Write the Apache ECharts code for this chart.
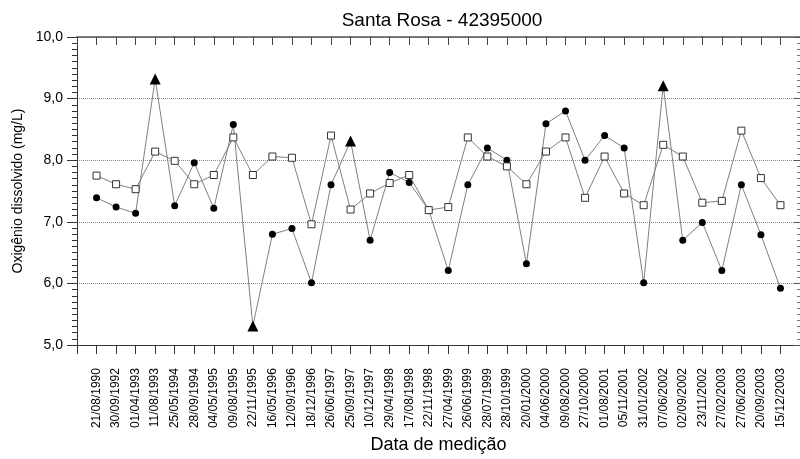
<!DOCTYPE html>
<html>
<head>
<meta charset="utf-8">
<script src="https://cdn.jsdelivr.net/npm/echarts@6/dist/echarts.min.js"></script>
<style>
html,body{margin:0;padding:0;background:#fff;}
#c{width:800px;height:459px;}
</style>
</head>
<body>
<div id="c"></div>
<script>
const titleText = 'Santa Rosa - 42395000';
const yAxisName = 'Oxigênio dissolvido (mg/L)';
const xAxisName = 'Data de medição';
const categories = ['21/08/1990','30/09/1992','01/04/1993','11/08/1993','25/05/1994','28/09/1994','04/05/1995','09/08/1995','22/11/1995','16/05/1996','12/09/1996','18/12/1996','26/06/1997','25/09/1997','10/12/1997','29/04/1998','17/08/1998','22/11/1998','27/04/1999','26/06/1999','28/07/1999','28/10/1999','20/01/2000','04/06/2000','09/08/2000','27/10/2000','01/08/2001','05/11/2001','31/01/2002','07/06/2002','02/09/2002','23/11/2002','27/02/2003','27/06/2003','20/09/2003','15/12/2003'];
const circleValues = [7.39,7.24,7.14,9.32,7.26,7.96,7.22,8.58,5.31,6.80,6.89,6.01,7.60,8.31,6.70,7.80,7.64,7.19,6.21,7.60,8.20,8.00,6.32,8.59,8.80,8.00,8.40,8.20,6.01,9.21,6.70,6.99,6.21,7.60,6.79,5.92];
const squareValues = [7.75,7.61,7.53,8.14,7.99,7.61,7.76,8.37,7.76,8.06,8.04,6.96,8.40,7.20,7.46,7.63,7.76,7.19,7.24,8.37,8.06,7.90,7.61,8.14,8.37,7.39,8.06,7.46,7.27,8.25,8.06,7.31,7.34,8.48,7.71,7.27];
const triangleIndices = [3, 8, 13, 29];
const yTicks = [5, 6, 7, 8, 9, 10];

const paddedCats = [''].concat(categories, ['']);
const font = 'Arial, "Liberation Sans", sans-serif';

const circleData = circleValues.map((v, i) => {
  const item = { value: [i + 1, v] };
  if (triangleIndices.indexOf(i) >= 0) { item.symbol = 'triangle'; item.symbolSize = 11; }
  return item;
});
const squareData = squareValues.map((v, i) => ({ value: [i + 1, v] }));

const chart = echarts.init(document.getElementById('c'), null, { renderer: 'canvas' });
chart.setOption({
  animation: false,
  backgroundColor: '#fff',
  title: {
    text: titleText, left: 437, top: 6, textAlign: 'center',
    textStyle: { fontFamily: font, fontSize: 19, fontWeight: 'normal', color: '#000' }
  },
  grid: { left: 77, right: -3, top: 37, bottom: 110, containLabel: false },
  xAxis: [
    {
      type: 'category', data: paddedCats, boundaryGap: false, position: 'bottom',
      name: xAxisName, nameLocation: 'middle', nameGap: 88,
      nameTextStyle: { fontFamily: font, fontSize: 18, color: '#000' },
      axisLine: { show: true, onZero: false, lineStyle: { color: '#333', width: 1 } },
      axisTick: { show: true, inside: false, length: 9, interval: 0, lineStyle: { color: '#333' } },
      axisLabel: { show: true, interval: 0, rotate: 90, margin: 23, fontFamily: font, fontSize: 12, color: '#000' },
      splitLine: { show: false }
    },
    {
      type: 'category', data: paddedCats, boundaryGap: false, position: 'top',
      axisLine: { show: true, onZero: false, lineStyle: { color: '#555', width: 1.5 } },
      axisTick: { show: true, inside: true, length: 8, interval: 0, lineStyle: { color: '#444' } },
      axisLabel: { show: false },
      splitLine: { show: false }
    }
  ],
  yAxis: [
    {
      type: 'value', min: yTicks[0], max: yTicks[yTicks.length - 1], interval: 1, position: 'left',
      name: yAxisName, nameLocation: 'middle', nameGap: 43,
      nameTextStyle: { fontFamily: font, fontSize: 14, color: '#000' },
      axisLine: { show: true, onZero: false, lineStyle: { color: '#333', width: 1 } },
      axisTick: { show: true, inside: false, length: 10, lineStyle: { color: '#333' } },
      minorTick: { show: true, splitNumber: 10, length: 5, lineStyle: { color: '#333' } },
      axisLabel: { margin: 14, fontFamily: font, fontSize: 14, color: '#000',
        formatter: v => v.toFixed(1).replace('.', ',') },
      splitLine: { show: true, lineStyle: { type: 'dotted', color: '#888', width: 1 } }
    },
    {
      type: 'value', min: yTicks[0], max: yTicks[yTicks.length - 1], interval: 1, position: 'right',
      axisLine: { show: false },
      axisTick: { show: true, inside: true, length: 6, lineStyle: { color: '#555' } },
      minorTick: { show: true, splitNumber: 10, length: 3, lineStyle: { color: '#777' } },
      axisLabel: { show: false },
      splitLine: { show: false }
    }
  ],
  series: [
    {
      type: 'line', name: 'A', data: circleData, xAxisIndex: 0, yAxisIndex: 0,
      symbol: 'circle', symbolSize: 7,
      lineStyle: { color: '#808080', width: 1 },
      itemStyle: { color: '#000', borderColor: '#000', borderWidth: 0 },
      z: 3
    },
    {
      type: 'line', name: 'B', data: squareData, xAxisIndex: 0, yAxisIndex: 0,
      symbol: 'rect', symbolSize: 7,
      lineStyle: { color: '#808080', width: 1 },
      itemStyle: { color: '#fff', borderColor: '#333', borderWidth: 1 },
      z: 4
    }
  ]
});
</script>
</body>
</html>
